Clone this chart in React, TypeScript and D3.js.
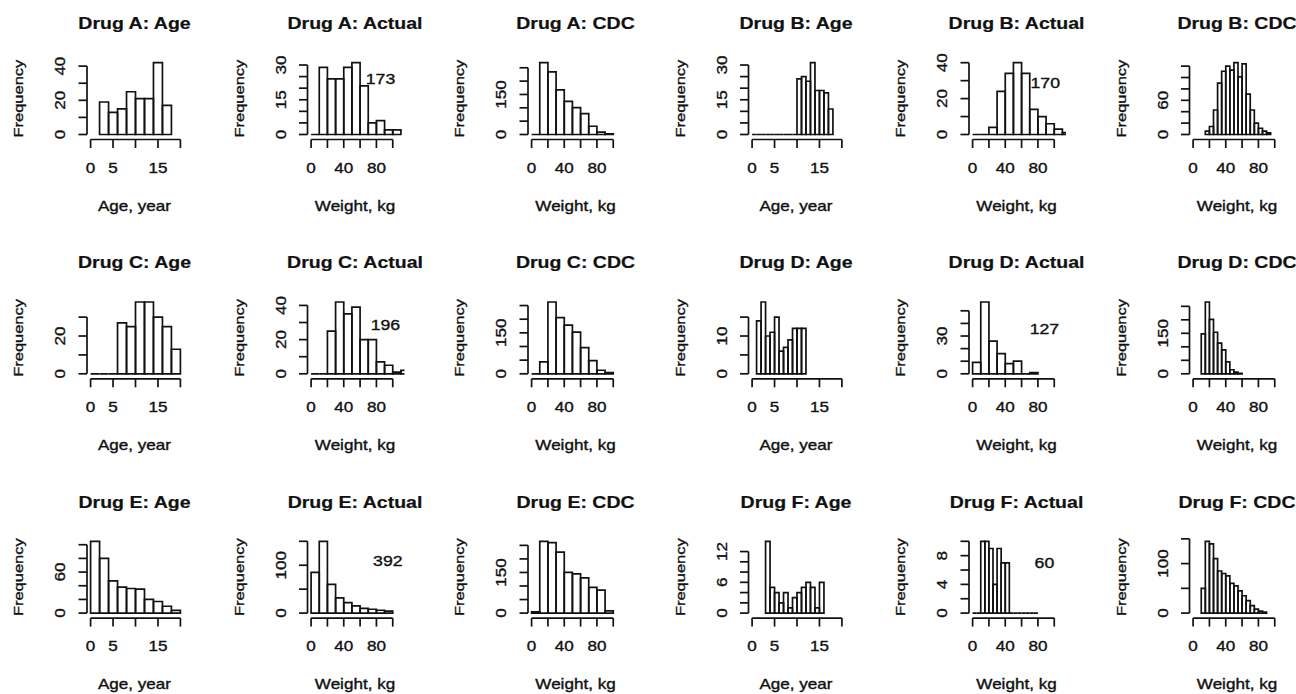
import React from 'react';
import * as d3 from 'd3';

// ---------- data ----------
const drugs = ['A', 'B', 'C', 'D', 'E', 'F'];

// Age, year: first break and bin width per drug, then counts
const ageStart = [2, 0, 0, 1, 0, 3];
const ageWidth = [2, 1, 2, 1, 2, 1];
const ageA = [19, 13, 15, 25, 21, 21, 42, 17];
const ageB = [0, 0, 0, 0, 0, 0, 0, 0, 0, 0, 24, 25, 23, 31, 19, 19, 18, 11];
const ageC = [0, 0, 0, 27, 25, 38, 38, 30, 25, 13];
const ageD = [14, 19, 10, 11, 15, 6, 7, 9, 12, 12, 12];
const ageE = [105, 80, 47, 38, 36, 35, 20, 17, 10, 4];
const ageF = [14, 5, 4, 2, 4, 1, 3, 4, 5, 6, 5, 1, 6];

// Weight, kg (actual)
const actualStart = [0, 0, 0, 0, 0, 0];
const actualWidth = [10, 10, 10, 10, 10, 5];
const actualA = [0, 29, 24, 24, 29, 31, 21, 5, 6, 2, 2];
const actualB = [0, 0, 4, 24, 34, 40, 34, 14, 10, 6, 3, 1];
const actualC = [0, 0, 25, 42, 35, 39, 20, 20, 7, 5, 1, 2];
const actualD = [9, 57, 26, 16, 8, 10, 0, 1];
const actualE = [85, 150, 60, 32, 22, 15, 10, 8, 6, 4];
const actualF = [0, 0, 10, 10, 9, 4, 9, 7, 7, 0, 0, 0, 0, 0, 0, 0];
const actualN = [173, 170, 196, 127, 392, 60];
const noteX = [85, 89, 91, 88, 94, 88];
const noteY = [24, 29, 29, 36, 110, 7];

// Weight, kg (CDC)
const cdcStart = [0, 15, 0, 10, 0, 10];
const cdcWidth = [10, 5, 10, 5, 10, 5];
const cdcA = [0, 269, 235, 167, 124, 101, 78, 31, 9, 2];
const cdcB = [6, 14, 43, 90, 111, 120, 113, 126, 101, 124, 71, 43, 20, 11, 6, 3];
const cdcC = [0, 44, 263, 206, 178, 153, 96, 48, 13, 4];
const cdcD = [148, 266, 202, 154, 114, 89, 44, 15, 6, 2];
const cdcE = [5, 265, 260, 225, 150, 145, 130, 95, 85, 8];
const cdcF = [50, 145, 140, 110, 85, 80, 75, 60, 55, 45, 35, 25, 15, 8, 4, 2];

// y ticks and the labels R kept
const ageTicks = [[0, 10, 20, 30, 40], [0, 5, 10, 15, 20, 25, 30], [0, 10, 20, 30], [0, 5, 10, 15], [0, 20, 40, 60, 80, 100], [0, 2, 4, 6, 8, 10, 12]];
const ageLabels = [[0, 20, 40], [0, 15, 30], [0, 20], [0, 10], [0, 60], [0, 6, 12]];
const actualTicks = [[0, 5, 10, 15, 20, 25, 30], [0, 10, 20, 30, 40], [0, 10, 20, 30, 40], [0, 10, 20, 30, 40, 50], [0, 50, 100, 150], [0, 2, 4, 6, 8, 10]];
const actualLabels = [[0, 15, 30], [0, 20, 40], [0, 20, 40], [0, 30], [0, 100], [0, 4, 8]];
const cdcTicks = [[0, 50, 100, 150, 200, 250], [0, 20, 40, 60, 80, 100, 120], [0, 50, 100, 150, 200, 250], [0, 50, 100, 150, 200, 250], [0, 50, 100, 150, 200, 250], [0, 50, 100, 150]];
const cdcLabels = [[0, 150], [0, 60], [0, 150], [0, 150], [0, 150], [0, 100]];

const ageXTicks = [0, 5, 10, 15, 20];
const ageXLabels = [0, 5, 15];
const wtXTicks = [0, 20, 40, 60, 80, 100];
const wtXLabels = [0, 40, 80];

const ageCounts = [ageA, ageB, ageC, ageD, ageE, ageF];
const actualCounts = [actualA, actualB, actualC, actualD, actualE, actualF];
const cdcCounts = [cdcA, cdcB, cdcC, cdcD, cdcE, cdcF];

// ---------- layout ----------
const W = 1296;
const H = 694;
const PW = 97;
const ROW = 239.3;
const SX = 1.22; // glyphs in the picture are wider than Arial

function Txt({ x, y, rot = 0, size = 14, bold = false, children }: any) {
  return (
    <g transform={`translate(${x},${y}) rotate(${rot}) scale(${SX},1)`}>
      <text
        textAnchor="middle"
        fontSize={size}
        fontWeight={bold ? 'bold' : 'normal'}
        fill="#111"
        stroke="#111"
        strokeWidth={bold ? 0.2 : 0.35}
      >
        {children}
      </text>
    </g>
  );
}

function Panel(props: any) {
  const { idx, row, col, title, xlab, xlim, xticks, xlabels, start, width, counts, yticks, ylabels, note } = props;
  const L = 87 + 220.5 * col;
  const top = ROW * row;
  const ext = 0.04 * (xlim[1] - xlim[0]);
  const x = d3.scaleLinear().domain([xlim[0] - ext, xlim[1] + ext]).range([L, L + PW]);
  const maxC = d3.max(counts as number[]) as number;
  const y = d3.scaleLinear().domain([0, maxC]).range([top + 134.5, top + 62.7]);
  const axisY = top + 139.5;
  const tick = 8.5;
  const clipId = `clip${idx}`;
  const cx = L + 47.5;

  return (
    <g>
      <clipPath id={clipId}>
        <rect x={L} y={top + 59.9} width={PW} height={77.5} />
      </clipPath>
      <g clipPath={`url(#${clipId})`}>
        {counts.map((v: number, i: number) => {
          const x0 = x(start + i * width);
          const x1 = x(start + (i + 1) * width);
          return (
            <path key={i} d={`M${x0},${y(0)}V${y(v)}H${x1}V${y(0)}Z`} fill="none" stroke="#111" strokeWidth={1.7} />
          );
        })}
      </g>
      {/* x axis */}
      <line x1={x(xticks[0])} x2={x(xticks[xticks.length - 1])} y1={axisY} y2={axisY} stroke="#111" strokeWidth={1.7} />
      {xticks.map((t: number) => (
        <line key={t} x1={x(t)} x2={x(t)} y1={axisY} y2={axisY + tick} stroke="#111" strokeWidth={1.7} />
      ))}
      {xlabels.map((t: number) => (
        <Txt key={t} x={x(t)} y={top + 172.5} size={14}>{t}</Txt>
      ))}
      {/* y axis */}
      <line x1={L} x2={L} y1={y(yticks[0])} y2={y(yticks[yticks.length - 1])} stroke="#111" strokeWidth={1.7} />
      {yticks.map((t: number) => (
        <line key={t} x1={L - tick} x2={L} y1={y(t)} y2={y(t)} stroke="#111" strokeWidth={1.7} />
      ))}
      {ylabels.map((t: number) => (
        <Txt key={t} x={L - 22} y={y(t)} rot={-90} size={14}>{t}</Txt>
      ))}
      <Txt x={L - 64} y={top + 98.6} rot={-90} size={13.5}>Frequency</Txt>
      <Txt x={cx} y={top + 210.7} size={14}>{xlab}</Txt>
      <Txt x={cx} y={top + 29} size={16} bold>{title}</Txt>
      {note && (
        <Txt x={x(note.x)} y={y(note.y) + 5.5} size={14.5}>{note.n}</Txt>
      )}
    </g>
  );
}

export default function App() {
  const panels: any[] = [];
  drugs.forEach((d, i) => {
    const row = Math.floor(i / 2);
    const base = (i % 2) * 3;
    panels.push({
      title: `Drug ${d}: Age`, xlab: 'Age, year', row, col: base,
      xlim: [0, 20], xticks: ageXTicks, xlabels: ageXLabels,
      start: ageStart[i], width: ageWidth[i], counts: ageCounts[i],
      yticks: ageTicks[i], ylabels: ageLabels[i],
    });
    panels.push({
      title: `Drug ${d}: Actual`, xlab: 'Weight, kg', row, col: base + 1,
      xlim: [0, 110], xticks: wtXTicks, xlabels: wtXLabels,
      start: actualStart[i], width: actualWidth[i], counts: actualCounts[i],
      yticks: actualTicks[i], ylabels: actualLabels[i],
      note: { x: noteX[i], y: noteY[i], n: actualN[i] },
    });
    panels.push({
      title: `Drug ${d}: CDC`, xlab: 'Weight, kg', row, col: base + 2,
      xlim: [0, 110], xticks: wtXTicks, xlabels: wtXLabels,
      start: cdcStart[i], width: cdcWidth[i], counts: cdcCounts[i],
      yticks: cdcTicks[i], ylabels: cdcLabels[i],
    });
  });

  return (
    <svg
      width={W}
      height={H}
      style={{ position: 'absolute', left: 0, top: 0, background: '#fff' }}
      fontFamily="'Liberation Sans', Arial, sans-serif"
    >
      <rect width={W} height={H} fill="#fff" />
      {panels.map((p, k) => (
        <Panel key={k} idx={k} {...p} />
      ))}
    </svg>
  );
}
